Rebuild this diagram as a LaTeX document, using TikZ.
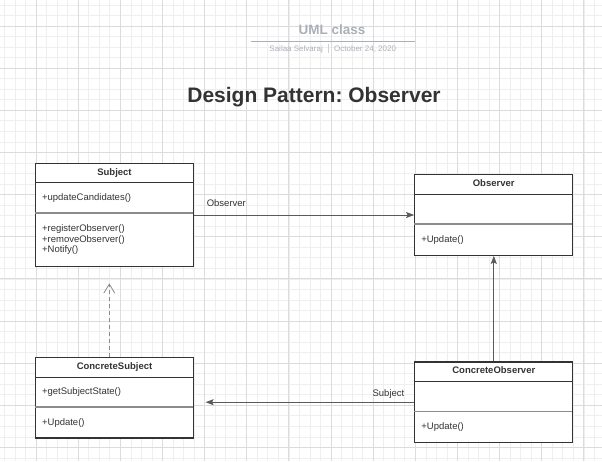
\documentclass[tikz,border=0pt]{standalone}
\usepackage{fontspec}
\setmainfont{Liberation Sans}
\frenchspacing
\usetikzlibrary{arrows.meta, positioning}
\definecolor{inkgray}{HTML}{333333}
\definecolor{linegray}{HTML}{5A5A5A}
\definecolor{splitgray}{HTML}{8C8C8C}
\definecolor{headgray}{HTML}{ABB0B8}
\definecolor{gridminor}{HTML}{EFEFEF}
\definecolor{gridmajor}{HTML}{DCDCDC}

\begin{document}
\begin{tikzpicture}[x=1pt, y=-1pt]
% Define styles
\tikzstyle{classbox} = [rectangle, draw=inkgray, line width=1.2pt, fill=white, minimum width=158, inner sep=0pt]
\tikzstyle{classname} = [font=\fontsize{9.5}{10.5}\selectfont\bfseries, text=inkgray, anchor=base, inner sep=0pt]
\tikzstyle{member} = [font=\fontsize{9.5}{10.5}\selectfont, text=inkgray, anchor=base west, inner sep=0pt, align=left]
\tikzstyle{headrule} = [draw=inkgray, line width=0.9pt]
\tikzstyle{splitrule} = [draw=splitgray, line width=1.8pt]
\tikzstyle{arrow} = [draw=linegray, line width=0.8pt, -{Stealth[length=8pt, width=6pt, inset=1.5pt]}]
\tikzstyle{realize} = [draw=splitgray, line width=0.8pt, dash pattern=on 4pt off 3pt, -{Straight Barb[length=9pt, width=11pt]}]

% Grid paper
\useasboundingbox (0,0) rectangle (602,461);
\fill[white] (0,0) rectangle (602,461);
\foreach \i in {0,...,56} \draw[gridminor, line width=0.8pt] ({4.5+10.535*\i},0) -- ++(0,461);
\foreach \i in {0,...,43} \draw[gridminor, line width=0.8pt] (0,{5+10.535*\i}) -- ++(602,0);
\foreach \i in {0,...,13} \draw[gridmajor, line width=0.8pt] ({36+42.14*\i},0) -- ++(0,461);
\foreach \i in {0,...,10} \draw[gridmajor, line width=0.8pt] (0,{26+42.14*\i}) -- ++(602,0);

% Heading
\node (umltitle) [font=\fontsize{13.5}{13.5}\selectfont\bfseries, text=headgray, anchor=base, inner sep=0pt] at (332,34.5) {UML class};
\draw[headgray, line width=0.8pt] (251,41) -- (415,41);
\node (author) [font=\fontsize{8}{8}\selectfont, text=headgray, anchor=base east, inner sep=0pt] at (323,51.5) {Sailaa Selvaraj};
\draw[headgray!60, line width=0.8pt] (328,44) -- (328,53);
\node (date) [font=\fontsize{8}{8}\selectfont, text=headgray, anchor=base west, inner sep=0pt] at (334,51.5) {October 24, 2020};
\node (pattern) [font=\fontsize{21}{21}\selectfont\bfseries, text=inkgray, anchor=base, inner sep=0pt] at (314,102) {Design Pattern: Observer};

% Classes
\node (subject) [classbox, minimum height=103.5] at (114.5,215) {};
\node (observer) [classbox, minimum height=80.6] at (493.7,215) {};
\node (concsubject) [classbox, minimum height=80.3] at (114.5,397.8) {};
\node (concobserver) [classbox, minimum height=80.3] at (493.8,402.2) {};

\foreach \c in {subject, observer, concsubject, concobserver} {
  \draw[headrule] (\c.north west) ++(0,20) -- ++(158,0);
  \draw[splitrule] (\c.north west) ++(0,50) -- ++(158,0);
}

\node (subjectname) [classname, yshift=-12.5pt] at (subject.north) {Subject};
\node (subjectattr) [member] at ([xshift=7pt, yshift=-37.4pt]subject.north west) {+updateCandidates()};
\node (subjectops) [member] at ([xshift=7pt, yshift=-90pt]subject.north west) {+registerObserver()\\+removeObserver()\\+Notify()};

\node (observername) [classname, yshift=-12.5pt] at (observer.north) {Observer};
\node (observerops) [member] at ([xshift=7pt, yshift=-68.6pt]observer.north west) {+Update()};

\node (concsubjectname) [classname, yshift=-12.5pt] at (concsubject.north) {ConcreteSubject};
\node (concsubjectattr) [member] at ([xshift=7pt, yshift=-37.4pt]concsubject.north west) {+getSubjectState()};
\node (concsubjectops) [member] at ([xshift=7pt, yshift=-68.4pt]concsubject.north west) {+Update()};

\node (concobservername) [classname, yshift=-12.5pt] at (concobserver.north) {ConcreteObserver};
\node (concobserverops) [member] at ([xshift=7pt, yshift=-68.2pt]concobserver.north west) {+Update()};

% Arrows
\draw[arrow] (subject.east) -- (observer.west);
\node (observerrole) [member] at ([xshift=12.5pt, yshift=8.6pt]subject.east) {Observer};
\draw[arrow, shorten >=11.5pt] (concobserver.west) -- (concsubject.east |- concobserver.west);
\node (subjectrole) [member, anchor=base east] at ([xshift=-9.7pt, yshift=6.1pt]concobserver.west) {Subject};
\draw[arrow] (concobserver.north) -- (concobserver.north |- observer.south);
\draw[realize, shorten >=16pt] ([xshift=-5.2pt]concsubject.north) -- ([xshift=-5.2pt]concsubject.north |- subject.south);
\end{tikzpicture}
\end{document}
